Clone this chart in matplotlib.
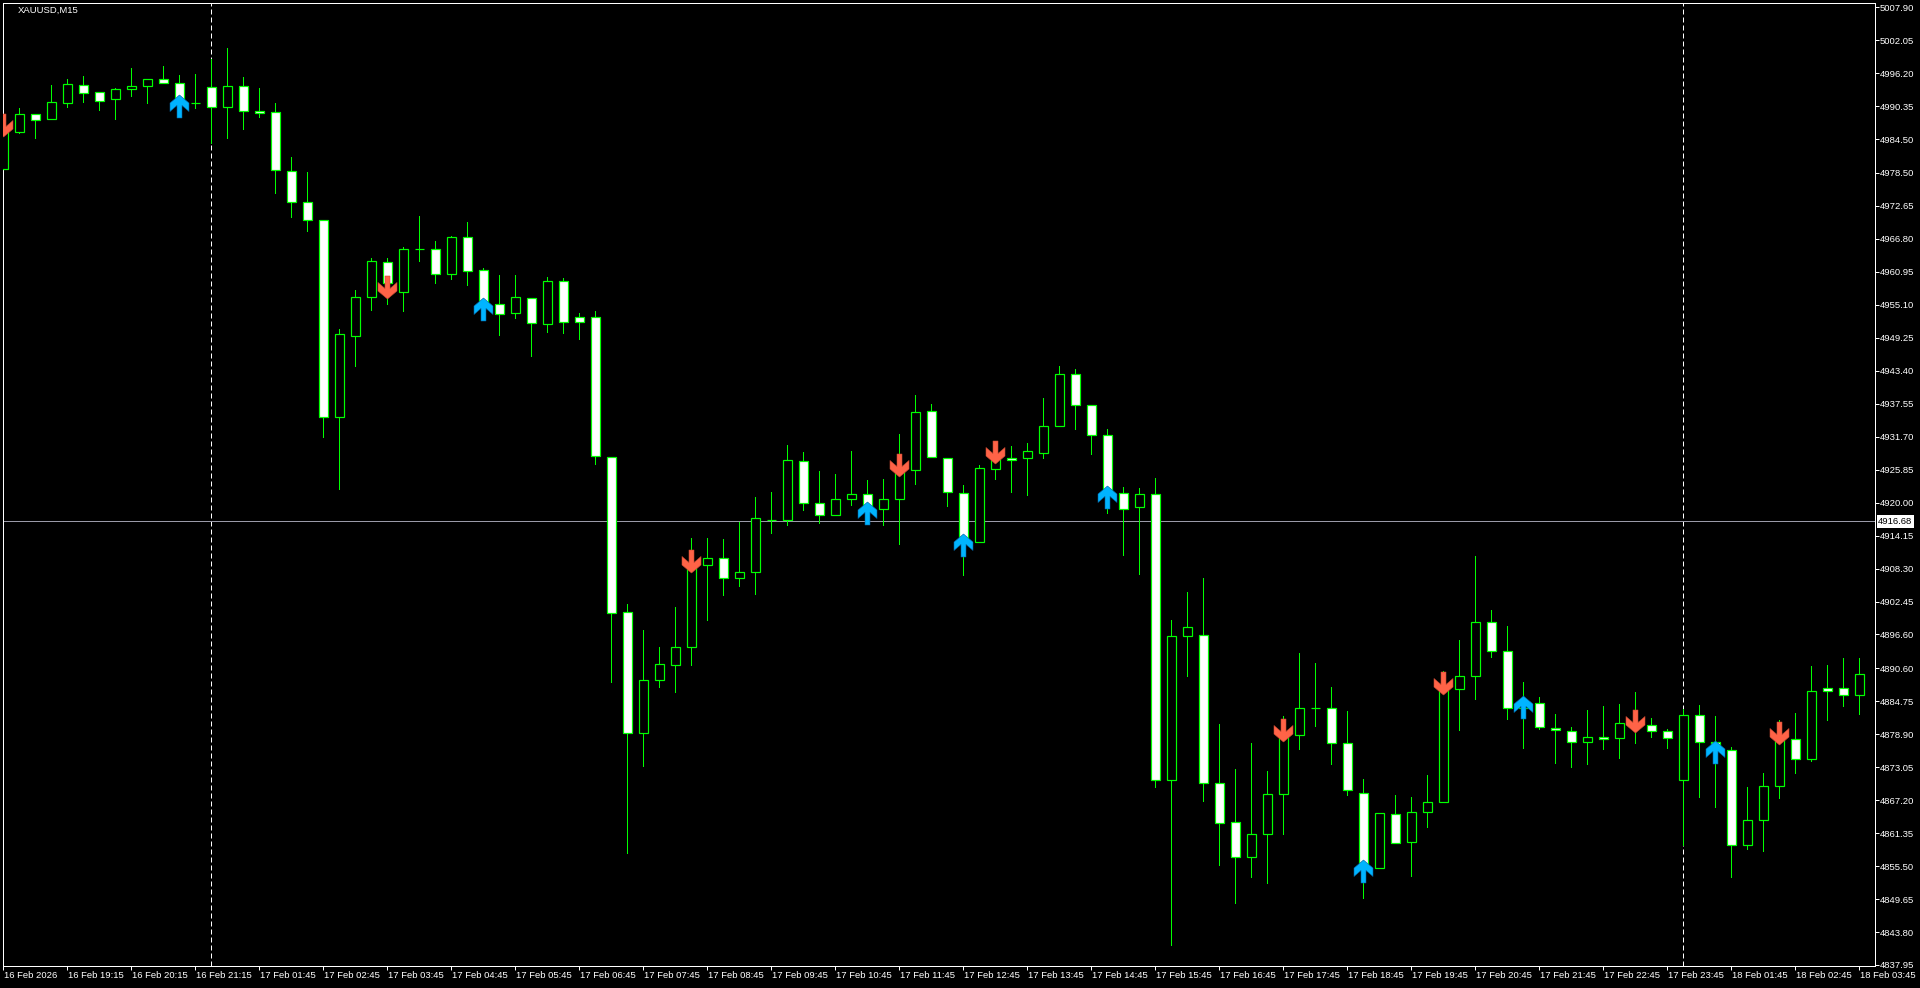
import matplotlib
matplotlib.use('Agg')
import matplotlib.pyplot as plt
from matplotlib.path import Path
import matplotlib.transforms as mtransforms

# ---------------- data (XAUUSD M15) ----------------
opens = [4979.15, 4985.82, 4988.91, 4988.02, 4990.97, 4994.06, 4992.82, 4991.57, 4993.35, 4993.88,
         4995.12, 4994.41, 4990.86, 4993.81, 4990.26, 4993.99, 4989.44, 4989.37, 4978.90, 4973.40,
         4970.10, 4935.25, 4949.62, 4956.44, 4962.75, 4957.43, 4964.95, 4964.95, 4960.52, 4967.08,
         4961.23, 4955.19, 4953.70, 4956.26, 4951.75, 4959.28, 4952.89, 4952.89, 4928.15, 4900.54,
         4879.06, 4888.47, 4891.13, 4894.33, 4908.88, 4910.12, 4906.57, 4907.64, 4916.86, 4916.86,
         4927.33, 4919.88, 4917.75, 4920.59, 4921.48, 4918.82, 4920.59, 4925.74, 4936.21, 4927.87,
         4921.65, 4913.07, 4925.91, 4927.87, 4927.87, 4928.75, 4933.54, 4942.77, 4937.27, 4931.95,
         4921.65, 4919.17, 4921.48, 4870.72, 4896.28, 4896.46, 4870.19, 4863.27, 4857.06, 4861.14,
         4868.24, 4878.71, 4883.50, 4883.50, 4877.29, 4868.42, 4855.11, 4864.69, 4859.72, 4865.05,
         4866.82, 4886.87, 4889.18, 4898.76, 4893.62, 4883.50, 4884.39, 4880.06, 4879.42, 4877.47,
         4878.35, 4878.18, 4880.84, 4880.49, 4879.42, 4870.72, 4882.26, 4877.47, 4876.05, 4859.19,
         4863.63, 4869.66, 4878.00, 4874.45, 4887.05, 4887.05, 4885.81]
highs = [4988.79, 4989.98, 4988.91, 4994.11, 4995.18, 4995.71, 4992.82, 4993.53, 4997.13, 4995.12,
         4997.48, 4995.89, 4996.06, 4998.67, 5000.62, 4995.48, 4993.53, 4990.86, 4981.28, 4978.62,
         4970.10, 4950.81, 4957.73, 4963.46, 4963.36, 4965.36, 4970.86, 4966.43, 4967.31, 4969.80,
         4961.58, 4960.34, 4960.34, 4956.26, 4960.04, 4959.86, 4953.60, 4953.95, 4928.15, 4901.96,
         4897.40, 4894.33, 4901.42, 4913.72, 4913.72, 4913.49, 4916.61, 4921.00, 4921.89, 4930.23,
         4928.98, 4925.61, 4925.08, 4929.16, 4924.01, 4924.19, 4932.18, 4939.10, 4937.50, 4927.87,
         4923.13, 4926.68, 4928.45, 4930.05, 4930.58, 4938.51, 4944.25, 4943.71, 4937.27, 4933.01,
         4922.77, 4922.60, 4924.37, 4899.17, 4904.14, 4906.62, 4880.71, 4872.73, 4877.34, 4872.37,
         4882.13, 4893.31, 4891.54, 4887.28, 4883.02, 4870.95, 4864.87, 4868.06, 4867.71, 4871.61,
         4890.12, 4895.62, 4910.53, 4900.89, 4898.05, 4888.11, 4885.45, 4882.49, 4880.13, 4883.20,
         4883.91, 4884.26, 4886.39, 4881.73, 4879.78, 4883.32, 4884.03, 4882.08, 4876.58, 4869.48,
         4871.97, 4881.37, 4882.67, 4891.01, 4891.18, 4892.43, 4892.43]
lows = [4975.00, 4985.54, 4984.76, 4988.02, 4990.26, 4991.15, 4989.67, 4988.02, 4992.21, 4990.97,
        4994.41, 4990.92, 4989.98, 4983.87, 4984.76, 4986.36, 4988.38, 4975.00, 4970.74, 4968.26,
        4931.70, 4922.42, 4944.25, 4954.18, 4955.25, 4954.06, 4962.88, 4959.03, 4959.74, 4958.62,
        4954.89, 4949.80, 4952.82, 4946.07, 4950.33, 4950.15, 4949.09, 4926.91, 4888.22, 4857.88,
        4873.31, 4887.33, 4886.45, 4891.13, 4899.22, 4903.66, 4905.26, 4903.84, 4914.66, 4915.98,
        4918.74, 4916.33, 4917.75, 4919.52, 4916.92, 4916.08, 4912.71, 4923.36, 4928.04, 4919.45,
        4907.21, 4913.07, 4924.25, 4921.94, 4921.41, 4927.97, 4933.54, 4933.12, 4928.68, 4918.21,
        4910.76, 4907.39, 4869.59, 4841.55, 4889.29, 4867.10, 4855.75, 4849.00, 4853.62, 4852.55,
        4861.25, 4876.33, 4880.41, 4873.67, 4868.17, 4849.89, 4855.11, 4859.54, 4853.79, 4862.38,
        4866.82, 4879.70, 4885.20, 4892.66, 4881.66, 4876.51, 4879.88, 4873.85, 4873.14, 4873.67,
        4876.33, 4874.73, 4877.40, 4878.35, 4876.51, 4859.30, 4867.81, 4866.04, 4853.62, 4858.48,
        4858.23, 4867.64, 4872.07, 4874.20, 4881.48, 4883.96, 4882.54]
closes = [4985.82, 4988.91, 4987.90, 4991.04, 4994.24, 4992.64, 4991.22, 4993.35, 4993.88, 4995.12,
          4994.41, 4991.45, 4990.86, 4990.26, 4993.99, 4989.44, 4989.20, 4978.97, 4973.30, 4970.10,
          4935.14, 4949.87, 4956.44, 4962.83, 4958.92, 4964.95, 4964.95, 4960.52, 4967.08, 4961.16,
          4955.25, 4953.42, 4956.44, 4951.93, 4959.28, 4952.11, 4952.11, 4928.22, 4900.36, 4879.06,
          4888.47, 4891.31, 4894.33, 4908.88, 4910.12, 4906.57, 4907.64, 4917.22, 4916.97, 4927.51,
          4919.88, 4917.75, 4920.59, 4921.48, 4918.82, 4920.59, 4925.74, 4936.03, 4928.04, 4921.83,
          4913.07, 4926.09, 4927.74, 4927.51, 4929.11, 4933.54, 4942.77, 4937.27, 4931.95, 4921.65,
          4918.82, 4921.48, 4870.72, 4896.28, 4897.87, 4870.19, 4863.09, 4857.06, 4861.14, 4868.24,
          4878.71, 4883.50, 4883.50, 4877.29, 4868.95, 4855.11, 4864.87, 4859.54, 4865.05, 4866.82,
          4886.87, 4889.18, 4898.76, 4893.62, 4883.50, 4884.39, 4880.13, 4879.60, 4877.47, 4878.35,
          4878.00, 4880.84, 4880.49, 4879.42, 4878.18, 4882.26, 4877.47, 4876.05, 4859.19, 4863.63,
          4869.66, 4878.00, 4874.45, 4886.52, 4886.52, 4885.81, 4889.53]

# signal arrows: (bar index, price)
sell_idx = [0, 24, 43, 56, 62, 80, 90, 102, 111]
sell_price = [4987.01, 4958.32, 4909.69, 4926.73, 4928.93, 4879.65, 4887.94, 4881.30, 4879.03]
buy_idx = [11, 30, 54, 60, 69, 85, 95, 107]
buy_price = [4990.42, 4954.41, 4918.21, 4912.53, 4921.03, 4854.66, 4883.78, 4875.71]

# time axis labels (every 4 bars)
time_tick_idx = list(range(0, 117, 4))
time_labels = ["16 Feb 2026", "16 Feb 19:15", "16 Feb 20:15", "16 Feb 21:15",
               "17 Feb 01:45", "17 Feb 02:45", "17 Feb 03:45", "17 Feb 04:45", "17 Feb 05:45",
               "17 Feb 06:45", "17 Feb 07:45", "17 Feb 08:45", "17 Feb 09:45", "17 Feb 10:45",
               "17 Feb 11:45", "17 Feb 12:45", "17 Feb 13:45", "17 Feb 14:45", "17 Feb 15:45",
               "17 Feb 16:45", "17 Feb 17:45", "17 Feb 18:45", "17 Feb 19:45", "17 Feb 20:45",
               "17 Feb 21:45", "17 Feb 22:45", "17 Feb 23:45", "18 Feb 01:45", "18 Feb 02:45",
               "18 Feb 03:45"]
day_separators = [13, 105]

price_ticks = [5007.90, 5002.05, 4996.20, 4990.35, 4984.50, 4978.50, 4972.65, 4966.80, 4960.95,
               4955.10, 4949.25, 4943.40, 4937.55, 4931.70, 4925.85, 4920.00, 4914.15, 4908.30,
               4902.45, 4896.60, 4890.60, 4884.75, 4878.90, 4873.05, 4867.20, 4861.35, 4855.50,
               4849.65, 4843.80, 4837.95]
price_labels = ["%.2f" % v for v in price_ticks]
hline_price = 4916.68
symbol_title = "XAUUSD,M15"

# ---------------- figure ----------------
W, H = 1920, 988
plt.rcParams['font.family'] = ['Liberation Sans', 'DejaVu Sans']
fig = plt.figure(figsize=(W / 100, H / 100), dpi=100)
fig.patch.set_facecolor('black')

ax_l, ax_r, ax_t, ax_b = 2.7, 1874.7, 2.7, 966.0
ax = fig.add_axes([ax_l / W, (H - ax_b) / H, (ax_r - ax_l) / W, (ax_b - ax_t) / H])
ax.set_facecolor('black')

PX = 0.72  # one pixel in points
GREEN = '#00ff00'
n = len(opens)
xs = list(range(n))

# wicks
ax.vlines(xs, lows, highs, color=GREEN, lw=PX, zorder=2, antialiased=False)
# bodies
bottoms = [min(o, c) for o, c in zip(opens, closes)]
heights = [abs(c - o) for o, c in zip(opens, closes)]
faces = ['white' if c < o else 'black' for o, c in zip(opens, closes)]
ax.bar(xs, heights, bottom=bottoms, width=0.58, color=faces, edgecolor=GREEN,
       linewidth=PX * 1.2, zorder=3, align='center')

# separators and horizontal line
for s in day_separators:
    ax.axvline(s, color='white', lw=PX, ls=(0, (5, 3)), zorder=1)
ax.axhline(hline_price, color='#9a9aa8', lw=PX, zorder=1)

# arrow markers (pixel geometry, centred)
down_verts = [(-2.5, 11.5), (2.5, 11.5), (2.5, -1.0), (9.5, 5.0), (9.5, -3.5), (0, -11.5),
              (-9.5, -3.5), (-9.5, 5.0), (-2.5, -1.0), (-2.5, 11.5)]
down_path = Path(down_verts, closed=True)
up_path = Path([(x, -y) for x, y in down_verts], closed=True)
ms = 23 * PX
ax.plot(sell_idx, sell_price, ls='none', marker=down_path, markersize=ms,
        markerfacecolor='#ff6347', markeredgecolor='#c84830', markeredgewidth=0.4, zorder=5)
ax.plot(buy_idx, buy_price, ls='none', marker=up_path, markersize=ms,
        markerfacecolor='#00b4ff', markeredgecolor='#0060a0', markeredgewidth=0.4, zorder=5)

# limits: x pixel = 3.33 + 16*k ; y pixel = 7.3 + (5007.90 - p)*5.635
ax.set_xlim((ax_l - 3.33) / 16, (ax_r - 3.33) / 16)
def px2price(y):
    return 5007.90 - (y - 7.3) / 5.635
ax.set_ylim(px2price(ax_b), px2price(ax_t))

for sp in ax.spines.values():
    sp.set_color('white')
    sp.set_linewidth(PX)

FS = 6.8
ax.yaxis.tick_right()
ax.set_yticks(price_ticks)
ax.set_yticklabels(price_labels)
ax.tick_params(axis='y', colors='white', length=4 * PX, width=PX, direction='out', pad=1,
               labelsize=FS)
ax.set_xticks(time_tick_idx)
ax.set_xticklabels(time_labels, ha='left')
ax.tick_params(axis='x', colors='white', length=4 * PX, width=PX, direction='out', pad=0.8,
               labelsize=FS)
offset = mtransforms.ScaledTranslation(0.5 / 100, 0, fig.dpi_scale_trans)
for lbl in ax.get_xticklabels():
    lbl.set_transform(lbl.get_transform() + offset)

# current line label box
trans = mtransforms.blended_transform_factory(ax.transAxes, ax.transData)
ax.text(1.0 + 3.5 / (ax_r - ax_l), hline_price, "%.2f" % hline_price, transform=trans,
        ha='left', va='center', fontsize=FS, color='black', zorder=6, clip_on=False,
        bbox=dict(boxstyle='square,pad=0.18', facecolor='white', edgecolor='none'))

# symbol title
fig.text(17.7 / W, 1 - 10.5 / H, symbol_title, color='white', fontsize=FS, ha='left', va='center')

fig.savefig('out.png', dpi=100, facecolor='black')
